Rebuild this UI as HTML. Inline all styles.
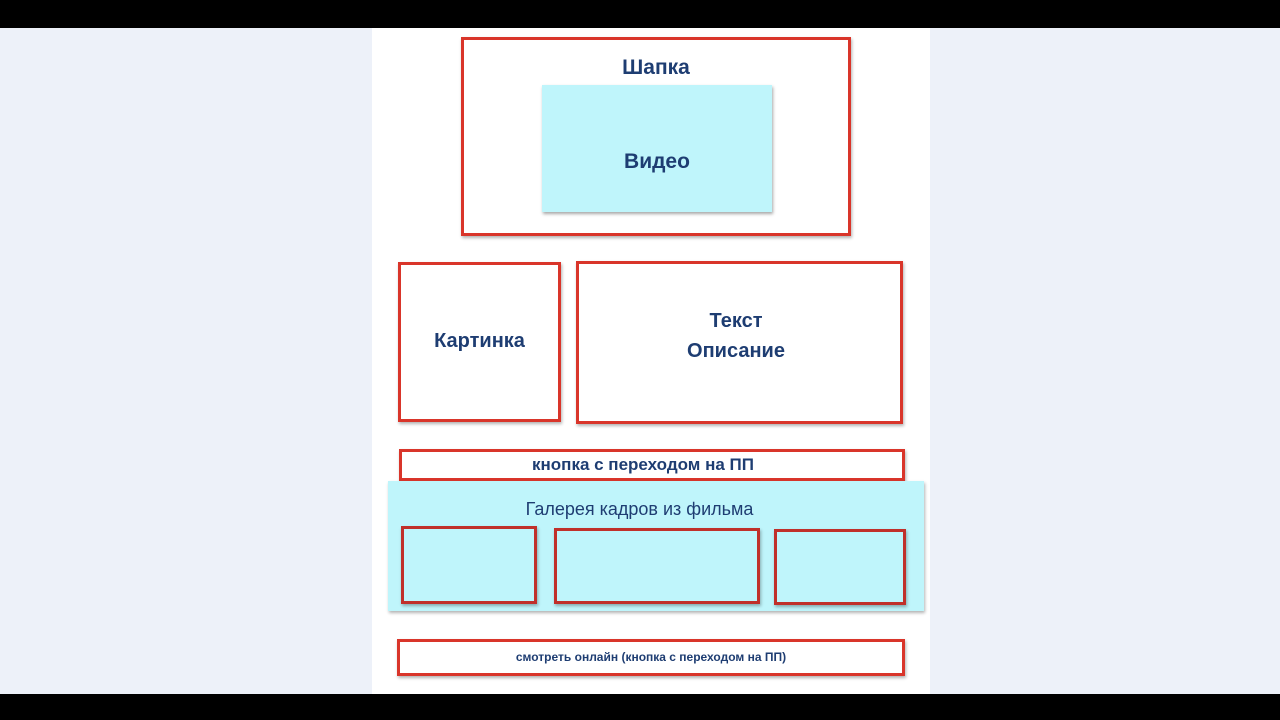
<!DOCTYPE html>
<html><head><meta charset="utf-8"><style>
body{margin:0;width:1280px;height:720px;background:#000;position:relative;overflow:hidden;font-family:"Liberation Sans","DejaVu Sans",sans-serif;}
.a{position:absolute;box-sizing:border-box;}
.r{border:3px solid #d9352a;box-shadow:1px 2px 3px rgba(0,0,0,.3);}
.t{position:absolute;color:#1e3d72;font-weight:bold;text-align:center;white-space:nowrap;}
</style></head><body>
<div class="a" style="left:0;top:28px;width:1280px;height:666px;background:#edf1f9"></div>
<div class="a" style="left:372px;top:28px;width:558px;height:666px;background:#fff"></div>

<div class="a r" style="left:461px;top:37px;width:390px;height:199px"></div>
<div class="t" style="left:461px;width:390px;top:56px;font-size:21px">Шапка</div>
<div class="a" style="left:542px;top:85px;width:230px;height:127px;background:#bff5fb;box-shadow:1px 2px 3px rgba(0,0,0,.35)"></div>
<div class="t" style="left:542px;width:230px;top:150px;font-size:21px">Видео</div>

<div class="a r" style="left:398px;top:262px;width:163px;height:160px"></div>
<div class="t" style="left:398px;width:163px;top:330px;font-size:20px">Картинка</div>
<div class="a r" style="left:576px;top:261px;width:327px;height:163px"></div>
<div class="t" style="left:576px;width:320px;top:306px;font-size:20px;line-height:30px">Текст<br>Описание</div>

<div class="a r" style="left:399px;top:449px;width:506px;height:32px"></div>
<div class="t" style="left:390px;width:506px;top:455px;font-size:17px">кнопка с переходом на ПП</div>

<div class="a" style="left:388px;top:481px;width:536px;height:130px;background:#bff5fb;box-shadow:1px 2px 3px rgba(0,0,0,.3)"></div>
<div class="t" style="left:388px;width:503px;top:499px;font-size:18px;font-weight:normal">Галерея кадров из фильма</div>
<div class="a r" style="left:401px;top:526px;width:136px;height:78px;border-color:#c0302a"></div>
<div class="a r" style="left:554px;top:528px;width:206px;height:76px;border-color:#c0302a"></div>
<div class="a r" style="left:774px;top:529px;width:132px;height:76px;border-color:#c0302a"></div>

<div class="a r" style="left:397px;top:639px;width:508px;height:37px"></div>
<div class="t" style="left:397px;width:508px;top:650px;font-size:12px">смотреть онлайн (кнопка с переходом на ПП)</div>
</body></html>
